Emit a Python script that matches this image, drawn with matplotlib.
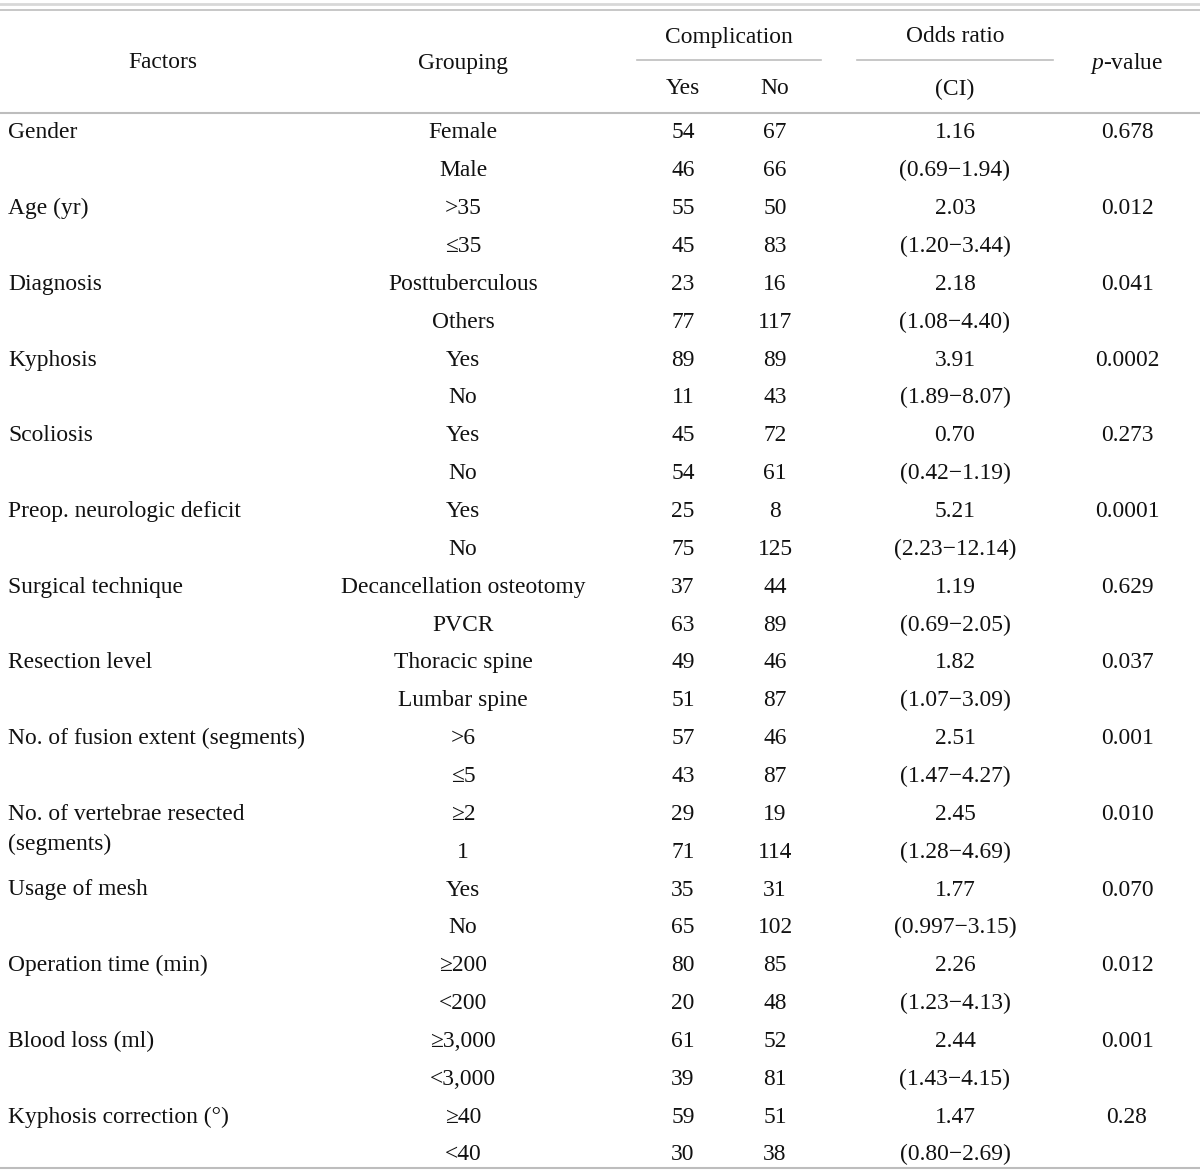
import matplotlib
matplotlib.use("Agg")
import matplotlib.pyplot as plt

plt.rcParams['font.family'] = ['Liberation Serif', 'DejaVu Serif']
plt.rcParams['mathtext.fontset'] = 'custom'
plt.rcParams['mathtext.it'] = 'Liberation Serif:italic'
plt.rcParams['mathtext.rm'] = 'Liberation Serif'

factors = ["Gender", "Age (yr)", "Diagnosis", "Kyphosis", "Scoliosis",
           "Preop. neurologic deficit", "Surgical technique", "Resection level",
           "No. of fusion extent (segments)", "No. of vertebrae resected\n(segments)",
           "Usage of mesh", "Operation time (min)", "Blood loss (ml)",
           "Kyphosis correction (°)"]
groups = [("Female", "Male"), (">35", "≤35"), ("Posttuberculous", "Others"),
          ("Yes", "No"), ("Yes", "No"), ("Yes", "No"),
          ("Decancellation osteotomy", "PVCR"), ("Thoracic spine", "Lumbar spine"),
          (">6", "≤5"), ("≥2", "1"), ("Yes", "No"), ("≥200", "<200"),
          ("≥3,000", "<3,000"), ("≥40", "<40")]
yes_counts = [(54, 46), (55, 45), (23, 77), (89, 11), (45, 54), (25, 75), (37, 63),
              (49, 51), (57, 43), (29, 71), (35, 65), (80, 20), (61, 39), (59, 30)]
no_counts = [(67, 66), (50, 83), (16, 117), (89, 43), (72, 61), (8, 125), (44, 89),
             (46, 87), (46, 87), (19, 114), (31, 102), (85, 48), (52, 81), (51, 38)]
odds = ["1.16", "2.03", "2.18", "3.91", "0.70", "5.21", "1.19", "1.82", "2.51",
        "2.45", "1.77", "2.26", "2.44", "1.47"]
ci = ["(0.69−1.94)", "(1.20−3.44)", "(1.08−4.40)", "(1.89−8.07)", "(0.42−1.19)",
      "(2.23−12.14)", "(0.69−2.05)", "(1.07−3.09)", "(1.47−4.27)", "(1.28−4.69)",
      "(0.997−3.15)", "(1.23−4.13)", "(1.43−4.15)", "(0.80−2.69)"]
pvals = ["0.678", "0.012", "0.041", "0.0002", "0.273", "0.0001", "0.629", "0.037",
         "0.001", "0.010", "0.070", "0.012", "0.001", "0.28"]

W, H = 1200, 1172
fig = plt.figure(figsize=(W / 100, H / 100), dpi=100)
ax = fig.add_axes([0, 0, 1, 1])
ax.set_xlim(0, W)
ax.set_ylim(H, 0)
ax.axis('off')

fs = 16.9
col = '#111111'
line_c = '#bdbdbd'

x_fac, x_grp, x_yes, x_no, x_or, x_p = 8, 463, 683, 775, 955, 1127
y0, dy = 133, 37.85
off = 2

def t(x, y, s, ha='center'):
    ax.text(x, y + off, s, ha=ha, va='center', fontsize=fs, color=col)

# header
t(163, 61, "Factors")
t(x_grp, 61, "Grouping")
t(729, 35, "Complication")
t(955, 35, "Odds ratio")
t(x_yes, 87, "Yes")
t(x_no, 87, "No")
t(x_or, 87, "(CI)")
t(x_p, 61, "$p$-value")

ax.plot([0, W], [4, 4], color='#d8d8d8', lw=2.0)
ax.plot([0, W], [10, 10], color=line_c, lw=1.2)
ax.plot([637, 821], [60, 60], color=line_c, lw=1.2)
ax.plot([857, 1053], [60, 60], color=line_c, lw=1.2)
ax.plot([0, W], [113, 113], color=line_c, lw=1.5)
ax.plot([0, W], [1168, 1168], color=line_c, lw=1.5)

for i, fac in enumerate(factors):
    ya = y0 - off + 2 * i * dy
    yb = ya + dy
    parts = fac.split("\n")
    t(x_fac, ya, parts[0], ha='left')
    if len(parts) > 1:
        t(x_fac, ya + 30, parts[1], ha='left')
    for k, yy in enumerate((ya, yb)):
        t(x_grp, yy, groups[i][k])
        t(x_yes, yy, str(yes_counts[i][k]))
        t(x_no, yy, str(no_counts[i][k]))
    t(x_or, ya, odds[i])
    t(x_or, yb, ci[i])
    t(x_p, ya, pvals[i])

fig.savefig("out.png", dpi=100, facecolor='white')
